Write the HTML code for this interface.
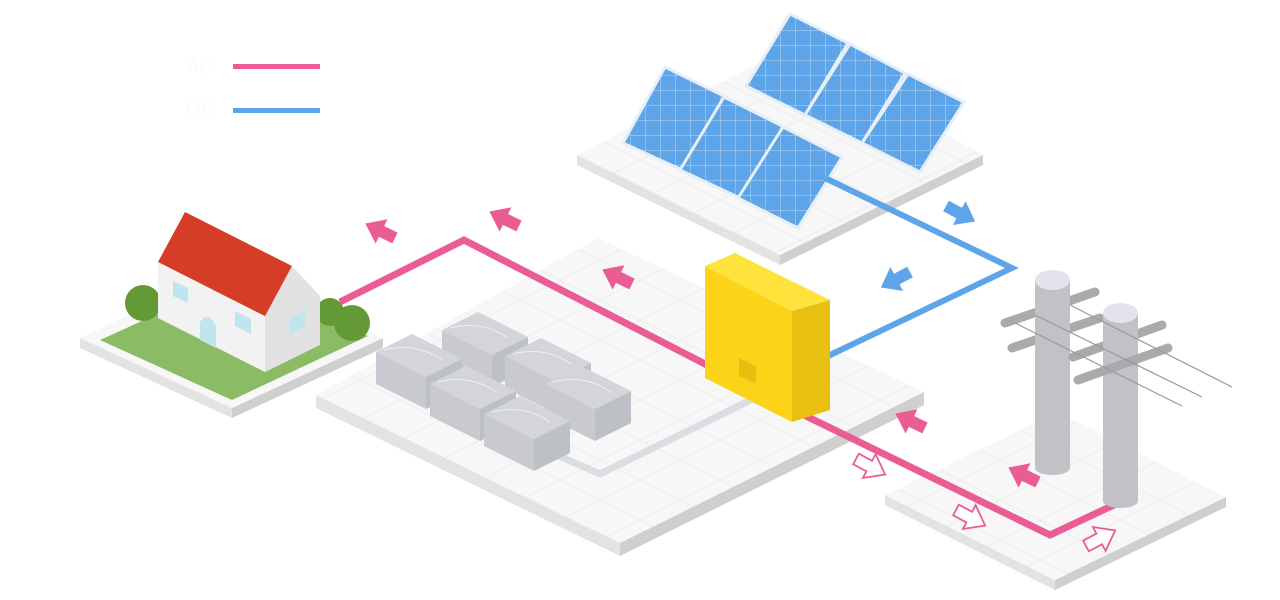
<!DOCTYPE html>
<html><head><meta charset="utf-8"><style>
html,body{margin:0;padding:0;background:#fff;width:1280px;height:600px;overflow:hidden}
svg{display:block}
</style></head><body>
<svg width="1280" height="600" viewBox="0 0 1280 600" xmlns="http://www.w3.org/2000/svg">
<defs>
<pattern id="grid" width="40" height="40" patternUnits="userSpaceOnUse" patternTransform="matrix(1,0.5,-1,0.5,0,0)">
<rect width="40" height="40" fill="#f7f7f7"/>
<path d="M0 0H40M0 0V40" stroke="#e4e4e4" stroke-width="1.2" fill="none"/>
</pattern>
<pattern id="cells" width="15" height="15" patternUnits="userSpaceOnUse">
<rect width="15" height="15" fill="#5ea4e8"/>
<path d="M0 0H15M0 0V15" stroke="#b9d8f5" stroke-width="1" fill="none"/>
</pattern>
<g id="arr"><polygon points="0,-4 10,-4 10,-9 22,0 10,9 10,4 0,4"/></g>
<g id="bat">
<polygon points="0,0 36,-18 86,7 50,25" fill="#d3d5da"/>
<polygon points="0,0 50,25 50,57 0,32" fill="#c8cacf"/>
<polygon points="50,25 86,7 86,39 50,57" fill="#bdc0c5"/>
<path d="M8 -2 Q40 -10 66 8" stroke="#eef0f2" fill="none" stroke-width="1"/>
</g>
</defs>

<text x="186" y="73" font-family="Liberation Sans, sans-serif" font-size="20" fill="#fafafa">AC</text>
<text x="186" y="117" font-family="Liberation Sans, sans-serif" font-size="20" fill="#fafafa">DC</text>
<rect x="233" y="64" width="87" height="5" fill="#e95d94"/>
<rect x="233" y="108" width="87" height="5" fill="#5ea4e8"/>

<polygon points="577,155 780,255 780,265 577,165" fill="#e3e3e3"/>
<polygon points="780,255 983,155 983,165 780,265" fill="#cfcfcf"/>
<polygon points="577,155 790,48 983,155 780,255" fill="url(#grid)"/>

<polygon points="316,395 620,543 620,556 316,408" fill="#e3e3e3"/>
<polygon points="620,543 924,392 924,405 620,556" fill="#cfcfcf"/>
<polygon points="316,395 598,238 924,392 620,543" fill="url(#grid)"/>

<polygon points="80,338 232,408 232,418 80,348" fill="#e3e3e3"/>
<polygon points="232,408 383,338 383,348 232,418" fill="#cfcfcf"/>
<polygon points="80,338 230,268 383,338 232,408" fill="#f7f7f7"/>
<polygon points="100,340 228,282 368,336 232,400" fill="#8bbb64"/>

<polygon points="885,495 1055,580 1055,590 885,505" fill="#e3e3e3"/>
<polygon points="1055,580 1226,497 1226,507 1055,590" fill="#cfcfcf"/>
<polygon points="885,495 1058,412 1226,497 1055,580" fill="url(#grid)"/>

<g stroke="#e6eef7" stroke-width="3" fill="url(#cells)">
<polygon points="790,14 848,43 805,115 746,86"/>
<polygon points="850,44 905,73 862,143 805,115"/>
<polygon points="908,74 964,102 920,172 862,143"/>
<polygon points="665,67 726,97 682,170 623,143"/>
<polygon points="724,97 784,127 740,198 680,170"/>
<polygon points="783,127 842,157 798,228 738,198"/>
</g>

<circle cx="143" cy="303" r="18" fill="#639a36"/>
<circle cx="330" cy="312" r="14" fill="#639a36"/>
<polygon points="158,262 265,316 265,372 158,318" fill="#f2f2f2"/>
<polygon points="265,316 292,266 320,296 320,345 265,372" fill="#e2e2e2"/>
<polygon points="185,212 292,266 265,316 158,262" fill="#d63d26"/>
<polygon points="173,281 188,288 188,303 173,296" fill="#bfe6ef"/>
<polygon points="235,311 251,319 251,334 235,326" fill="#bfe6ef"/>
<polygon points="290,318 305,310 305,326 290,334" fill="#bfe6ef"/>
<path d="M200 340 V322 Q208 310 216 326 V348 Z" fill="#bfe6ef"/>
<circle cx="352" cy="323" r="18" fill="#639a36"/>

<polyline points="550,452 600,474 755,398" stroke="#dadde2" stroke-width="7" fill="none"/>

<use href="#bat" x="442" y="330"/>
<use href="#bat" x="505" y="356"/>
<use href="#bat" x="376" y="352"/>
<use href="#bat" x="545" y="384"/>
<use href="#bat" x="430" y="384"/>
<use href="#bat" x="484" y="414"/>

<polyline points="340,302 464,240 810,418 1050,535 1118,503" stroke="#e95d94" stroke-width="7" fill="none"/>
<polyline points="825,178 1012,268 828,356" stroke="#5ea4e8" stroke-width="6" fill="none"/>

<polygon points="705,266 792,311 792,422 705,378" fill="#fdd31a"/>
<polygon points="792,311 830,300 830,410 792,422" fill="#e8c010"/>
<polygon points="705,266 735,253 830,300 792,311" fill="#fee33c"/>
<polygon points="739,358 756,366 756,384 739,376" fill="#e9bf0f"/>

<g stroke-linecap="round">
<line x1="1005" y1="323" x2="1095" y2="292" stroke="#aaaaad" stroke-width="9"/>
<line x1="1012" y1="348" x2="1100" y2="318" stroke="#aaaaad" stroke-width="9"/>
</g>
<rect x="1035" y="280" width="35" height="188" fill="#c1c2c6"/>
<ellipse cx="1052.5" cy="468" rx="17.5" ry="7" fill="#c1c2c6"/>
<ellipse cx="1052.5" cy="280" rx="17.5" ry="10" fill="#e4e2ec"/>
<line x1="1073" y1="357" x2="1162" y2="325" stroke="#aaaaad" stroke-width="9" stroke-linecap="round"/>
<rect x="1103" y="313" width="35" height="188" fill="#c1c2c6"/>
<ellipse cx="1120.5" cy="501" rx="17.5" ry="7" fill="#c1c2c6"/>
<ellipse cx="1120.5" cy="313" rx="17.5" ry="10" fill="#e4e2ec"/>
<line x1="1078" y1="380" x2="1168" y2="348" stroke="#aaaaad" stroke-width="9" stroke-linecap="round"/>
<g stroke="#999" stroke-width="1.2">
<line x1="1070" y1="305" x2="1232" y2="387"/>
<line x1="1035" y1="315" x2="1202" y2="397"/>
<line x1="1015" y1="323" x2="1182" y2="406"/>
</g>

<g fill="#e95d94">
<use href="#arr" transform="translate(395,238) rotate(206) scale(1.5)"/>
<use href="#arr" transform="translate(519,226) rotate(206) scale(1.5)"/>
<use href="#arr" transform="translate(632,284) rotate(206) scale(1.5)"/>
<use href="#arr" transform="translate(925,428) rotate(206) scale(1.5)"/>
<use href="#arr" transform="translate(1038,482) rotate(206) scale(1.5)"/>
</g>
<g fill="#5ea4e8">
<use href="#arr" transform="translate(946,206) rotate(28) scale(1.5)"/>
<use href="#arr" transform="translate(910,272) rotate(152) scale(1.5)"/>
</g>
<g fill="#fff" stroke="#e95d94" stroke-width="1.2">
<use href="#arr" transform="translate(856,459) rotate(28) scale(1.5)"/>
<use href="#arr" transform="translate(956,510) rotate(28) scale(1.5)"/>
<use href="#arr" transform="translate(1086,546) rotate(-28) scale(1.5)"/>
</g>
</svg>
</body></html>
